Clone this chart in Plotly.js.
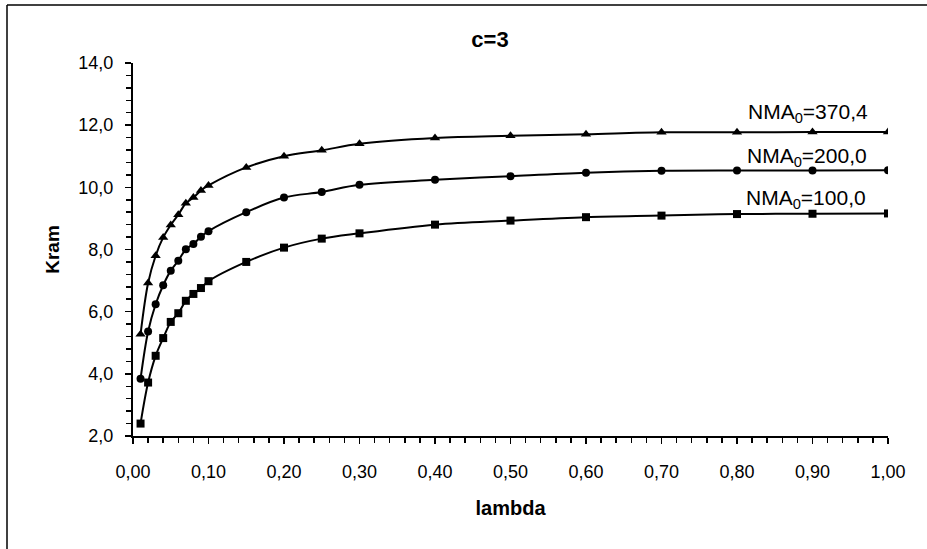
<!DOCTYPE html>
<html>
<head>
<meta charset="utf-8">
<script src="https://cdn.plot.ly/plotly-3.0.1.min.js"></script>
<style>
  html, body { margin: 0; padding: 0; background: #fff; }
  #chart { width: 927px; height: 549px; }
</style>
</head>
<body>
<div id="chart"></div>
<script>
// lambda values (x)
const lambda = [0.01, 0.02, 0.03, 0.04, 0.05, 0.06, 0.07, 0.08, 0.09, 0.10,
                0.15, 0.20, 0.25, 0.30, 0.40, 0.50, 0.60, 0.70, 0.80, 0.90, 1.00];

// Kram values for each NMA0
const kramNMA100 = [2.40, 3.72, 4.58, 5.15, 5.67, 5.95, 6.35, 6.57, 6.76, 6.98,
                    7.60, 8.06, 8.35, 8.52, 8.80, 8.93, 9.04, 9.09, 9.14, 9.15, 9.16];
const kramNMA200 = [3.84, 5.36, 6.24, 6.85, 7.32, 7.64, 8.01, 8.18, 8.41, 8.59,
                    9.20, 9.67, 9.85, 10.08, 10.24, 10.36, 10.47, 10.53, 10.54, 10.54, 10.55];
const kramNMA370 = [5.27, 6.92, 7.80, 8.39, 8.79, 9.12, 9.49, 9.67, 9.90, 10.06,
                    10.64, 11.00, 11.19, 11.40, 11.59, 11.66, 11.71, 11.77, 11.77, 11.78, 11.78];

const seriesLabels = ["NMA<sub>0</sub>=100,0", "NMA<sub>0</sub>=200,0", "NMA<sub>0</sub>=370,4"];
const labelPos = [ {x: 0.809, y: 9.63}, {x: 0.810, y: 10.98}, {x: 0.812, y: 12.38} ];

const font = "Arial, 'Liberation Sans', sans-serif";

function trace(y, symbol, size) {
  return {
    x: lambda, y: y, type: 'scatter', mode: 'lines+markers',
    line: {color: '#000', width: 2, shape: 'spline', smoothing: 1},
    marker: {symbol: symbol, size: size, color: '#000'},
    showlegend: false, hoverinfo: 'skip'
  };
}

const data = [
  trace(kramNMA100, 'square', 8),
  trace(kramNMA200, 'circle', 8),
  trace(kramNMA370, 'triangle-up', 9)
];

const annotations = seriesLabels.map((t, i) => ({
  text: t, x: labelPos[i].x, y: labelPos[i].y, xref: 'x', yref: 'y',
  xanchor: 'left', yanchor: 'middle', showarrow: false,
  font: {family: font, size: 21, color: '#000'}
}));

const layout = {
  width: 927, height: 549,
  margin: {l: 133, r: 39, t: 63, b: 113, pad: 0},
  paper_bgcolor: '#fff', plot_bgcolor: '#fff',
  separators: ',.',
  font: {family: font, color: '#000'},
  title: {
    text: '<b>c=3</b>', x: 490/927, xref: 'container', xanchor: 'center',
    y: 1 - 39/549, yref: 'container', yanchor: 'middle',
    font: {family: font, size: 22, color: '#000'}
  },
  xaxis: {
    range: [0, 1], dtick: 0.1, tick0: 0, tickformat: '.2f',
    showgrid: false, zeroline: false,
    showline: true, linecolor: '#000', linewidth: 2,
    ticks: 'outside', ticklen: 6, tickwidth: 1.5, tickcolor: '#000',
    minor: {dtick: 0.02, ticks: 'outside', ticklen: 5, tickwidth: 1.5, tickcolor: '#000', showgrid: false},
    tickfont: {family: font, size: 18, color: '#000'},
    ticklabelstandoff: 12,
    title: {text: '<b>lambda</b>', font: {family: font, size: 20, color: '#000'}, standoff: 20},
    automargin: false, fixedrange: true
  },
  yaxis: {
    range: [2, 14], dtick: 2, tick0: 2, tickformat: '.1f',
    showgrid: false, zeroline: false,
    showline: true, linecolor: '#000', linewidth: 2,
    ticks: 'outside', ticklen: 6, tickwidth: 1.5, tickcolor: '#000',
    minor: {dtick: 0.4, ticks: 'outside', ticklen: 5, tickwidth: 1.5, tickcolor: '#000', showgrid: false},
    tickfont: {family: font, size: 18, color: '#000'},
    ticklabelstandoff: 8,
    title: {text: '<b>Kram</b>', font: {family: font, size: 19, color: '#000'}, standoff: 14},
    automargin: false, fixedrange: true
  },
  annotations: annotations,
  shapes: [
    {type: 'line', xref: 'paper', yref: 'paper', x0: (7-133)/755, x1: (7-133)/755, y0: 1 + (63-5)/373, y1: -0.5,
     line: {color: '#000', width: 1.5}},
    {type: 'line', xref: 'paper', yref: 'paper', x0: (7-133)/755, x1: 1.5, y0: 1 + (63-5)/373, y1: 1 + (63-5)/373,
     line: {color: '#000', width: 1.5}}
  ]
};

Plotly.newPlot('chart', data, layout, {staticPlot: true, displayModeBar: false});
</script>
</body>
</html>
